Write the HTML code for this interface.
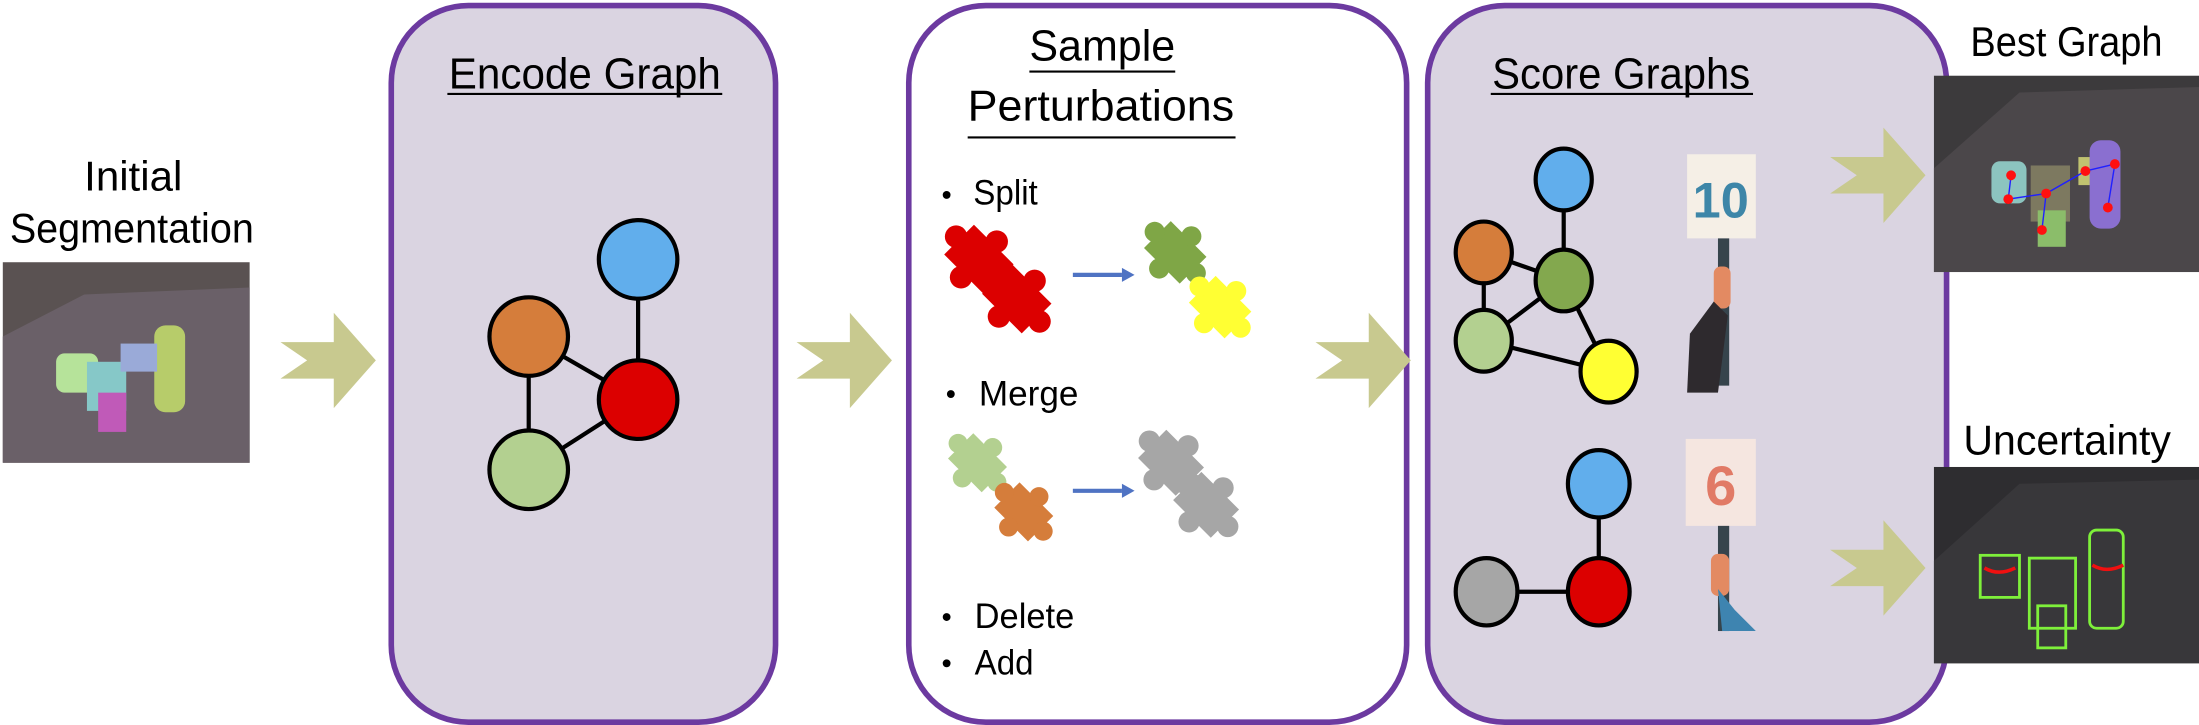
<!DOCTYPE html>
<html><head><meta charset="utf-8"><style>
html,body{margin:0;padding:0;background:#fff;}
svg{display:block;}
text{font-family:"Liberation Sans",sans-serif;}
</style></head><body>
<svg width="2199" height="725" viewBox="0 0 1568 517" preserveAspectRatio="none" xmlns="http://www.w3.org/2000/svg">
<defs>
<polygon id="chev" points="0,19 38,19 38,-2 68,32 38,66 38,45 0,45 19,32" fill="#c8c98f"/>
<g id="puz">
 <rect x="-20" y="-15" width="40" height="30"/>
 <circle cx="0" cy="-18" r="8"/><circle cx="-23" cy="0" r="8"/><circle cx="23" cy="0" r="8"/><circle cx="0" cy="18" r="8"/>
</g>
</defs>

<!-- Initial segmentation -->
<text x="60" y="136" font-size="30" textLength="70" lengthAdjust="spacingAndGlyphs">Initial</text>
<text x="7" y="173" font-size="30" textLength="174" lengthAdjust="spacingAndGlyphs">Segmentation</text>
<rect x="2" y="187" width="176" height="143" fill="#5a5252"/>
<polygon points="2,240 60,210 178,205 178,330 2,330" fill="#6a6068"/>
<rect x="40" y="252" width="30" height="28" rx="6" fill="#b6e39a"/>
<rect x="62" y="258" width="28" height="35" fill="#86c8c8"/>
<rect x="70" y="280" width="20" height="28" fill="#c05ab8"/>
<rect x="110" y="232" width="22" height="62" rx="8" fill="#b7cc6a"/>
<rect x="86" y="245" width="26" height="20" fill="#9aaad8"/>

<use href="#chev" x="200" y="225"/>

<!-- Encode Graph box -->
<rect x="279" y="4" width="274" height="511" rx="55" fill="#dad4e1" stroke="#6c3aa0" stroke-width="4"/>
<text x="320" y="63" font-size="31" textLength="194" lengthAdjust="spacingAndGlyphs">Encode Graph</text>
<line x1="319" y1="67" x2="515" y2="67" stroke="#000" stroke-width="1.5"/>
<g stroke="#000" stroke-width="3">
<line x1="455" y1="185" x2="455" y2="285"/>
<line x1="377" y1="240" x2="455" y2="285"/>
<line x1="377" y1="240" x2="377" y2="335"/>
<line x1="377" y1="335" x2="455" y2="285"/>
<ellipse cx="455" cy="185" rx="28" ry="28" fill="#61aeec"/>
<ellipse cx="377" cy="240" rx="28" ry="28" fill="#d57d3b"/>
<ellipse cx="455" cy="285" rx="28" ry="28" fill="#dc0000"/>
<ellipse cx="377" cy="335" rx="28" ry="28" fill="#b3d090"/>
</g>

<use href="#chev" x="568" y="225"/>

<!-- Sample Perturbations -->
<rect x="648" y="4" width="355" height="511" rx="55" fill="#fff" stroke="#6c3aa0" stroke-width="4"/>
<text x="734" y="43" font-size="31" textLength="104" lengthAdjust="spacingAndGlyphs">Sample</text>
<line x1="734" y1="51" x2="838" y2="51" stroke="#000" stroke-width="1.5"/>
<text x="690" y="86" font-size="31" textLength="190" lengthAdjust="spacingAndGlyphs">Perturbations</text>
<line x1="690" y1="98" x2="881" y2="98" stroke="#000" stroke-width="1.5"/>
<g font-size="25">
<circle cx="675" cy="139" r="2.8"/><text x="694" y="146" textLength="46" lengthAdjust="spacingAndGlyphs">Split</text>
<circle cx="678" cy="281" r="2.8"/><text x="698" y="289" textLength="71" lengthAdjust="spacingAndGlyphs">Merge</text>
<circle cx="675" cy="440" r="2.8"/><text x="695" y="448" textLength="71" lengthAdjust="spacingAndGlyphs">Delete</text>
<circle cx="675" cy="473" r="2.8"/><text x="695" y="481" textLength="42" lengthAdjust="spacingAndGlyphs">Add</text>
</g>
<use href="#puz" fill="#dc0000" transform="translate(698,185) rotate(45) scale(1.0)"/>
<use href="#puz" fill="#dc0000" transform="translate(725,213) rotate(45) scale(1.0)"/>
<line x1="765" y1="196" x2="800" y2="196" stroke="#4f73c3" stroke-width="3"/>
<polygon points="800,191 809,196 800,201" fill="#4f73c3"/>
<use href="#puz" fill="#7fa646" transform="translate(838,180) rotate(45) scale(0.9)"/>
<use href="#puz" fill="#ffff33" transform="translate(870,219) rotate(45) scale(0.9)"/>
<use href="#puz" fill="#b3d090" transform="translate(697,330) rotate(45) scale(0.85)"/>
<use href="#puz" fill="#d57d3b" transform="translate(730,365) rotate(45) scale(0.85)"/>
<line x1="765" y1="350" x2="800" y2="350" stroke="#4f73c3" stroke-width="3"/>
<polygon points="800,345 809,350 800,355" fill="#4f73c3"/>
<use href="#puz" fill="#a6a6a6" transform="translate(835,330) rotate(45) scale(0.95)"/>
<use href="#puz" fill="#a6a6a6" transform="translate(860,360) rotate(45) scale(0.95)"/>

<use href="#chev" x="938" y="225"/>

<!-- Score Graphs -->
<rect x="1018" y="4" width="370" height="511" rx="55" fill="#dad4e1" stroke="#6c3aa0" stroke-width="4"/>
<text x="1064" y="63" font-size="31" textLength="184" lengthAdjust="spacingAndGlyphs">Score Graphs</text>
<line x1="1063" y1="67" x2="1250" y2="67" stroke="#000" stroke-width="1.5"/>
<g stroke="#000" stroke-width="3">
<line x1="1115" y1="128" x2="1115" y2="200"/>
<line x1="1058" y1="180" x2="1115" y2="200"/>
<line x1="1058" y1="180" x2="1058" y2="243"/>
<line x1="1058" y1="243" x2="1115" y2="200"/>
<line x1="1058" y1="243" x2="1147" y2="265"/>
<line x1="1115" y1="200" x2="1147" y2="265"/>
<ellipse cx="1115" cy="128" rx="20" ry="22" fill="#61aeec"/>
<ellipse cx="1058" cy="180" rx="20" ry="22" fill="#d57d3b"/>
<ellipse cx="1115" cy="200" rx="20" ry="22" fill="#83a84e"/>
<ellipse cx="1058" cy="243" rx="20" ry="22" fill="#b3d090"/>
<ellipse cx="1147" cy="265" rx="20" ry="22" fill="#ffff33"/>
<line x1="1060" y1="422" x2="1140" y2="422"/>
<line x1="1140" y1="345" x2="1140" y2="422"/>
<ellipse cx="1140" cy="345" rx="22" ry="24" fill="#61aeec"/>
<ellipse cx="1140" cy="422" rx="22" ry="24" fill="#dc0000"/>
<ellipse cx="1060" cy="422" rx="22" ry="24" fill="#a6a6a6"/>
</g>
<rect x="1203" y="110" width="49" height="60" fill="#f5efe6"/>
<text x="1227" y="155" font-size="36" font-weight="bold" fill="#3d86a8" text-anchor="middle">10</text>
<rect x="1225" y="170" width="8" height="105" fill="#36444c"/>
<rect x="1222" y="190" width="12" height="30" rx="5" fill="#e38a62"/>
<polygon points="1203,280 1205,238 1222,215 1232,225 1225,280" fill="#2e2a2e"/>
<rect x="1202" y="313" width="50" height="62" fill="#f5e6e0"/>
<text x="1227" y="360" font-size="40" font-weight="bold" fill="#e17a66" text-anchor="middle">6</text>
<rect x="1225" y="375" width="8" height="75" fill="#36444c"/>
<rect x="1220" y="395" width="13" height="30" rx="5" fill="#e38a62"/>
<polygon points="1225,420 1237,435 1252,450 1228,450" fill="#3e84b0"/>

<use href="#chev" x="1305" y="93"/>
<use href="#chev" x="1305" y="373"/>

<!-- Outputs -->
<text x="1405" y="40" font-size="30" textLength="137" lengthAdjust="spacingAndGlyphs">Best Graph</text>
<rect x="1379" y="54" width="189" height="140" fill="#3c3a3c"/>
<polygon points="1379,120 1440,66 1568,62 1568,194 1379,194" fill="#4b474a"/>
<rect x="1420" y="115" width="25" height="30" rx="6" fill="#8cc4bf"/>
<rect x="1448" y="118" width="28" height="40" fill="#7d7960"/>
<rect x="1453" y="150" width="20" height="26" fill="#8bbd6a"/>
<rect x="1482" y="112" width="25" height="20" fill="#c0c270"/>
<rect x="1490" y="100" width="22" height="63" rx="8" fill="#8a6fd0"/>
<polyline points="1434,125 1432,142 1459,138 1487,122 1508,117 1503,148" fill="none" stroke="#2020ff" stroke-width="1"/>
<line x1="1459" y1="138" x2="1456" y2="164" stroke="#2020ff" stroke-width="1"/>
<g fill="#ff1010"><circle cx="1434" cy="125" r="3.5"/><circle cx="1432" cy="142" r="3.5"/><circle cx="1459" cy="138" r="3.5"/><circle cx="1487" cy="122" r="3.5"/><circle cx="1508" cy="117" r="3.5"/><circle cx="1503" cy="148" r="3.5"/><circle cx="1456" cy="164" r="3.5"/></g>
<text x="1400" y="324" font-size="30" textLength="148" lengthAdjust="spacingAndGlyphs">Uncertainty</text>
<rect x="1379" y="333" width="189" height="140" fill="#2e2d30"/>
<polygon points="1379,400 1440,345 1568,342 1568,473 1379,473" fill="#38373a"/>
<g fill="none" stroke="#7ef03a" stroke-width="2">
<rect x="1412" y="396" width="28" height="30"/>
<rect x="1447" y="398" width="33" height="50"/>
<rect x="1453" y="432" width="20" height="30"/>
<rect x="1490" y="378" width="24" height="70" rx="5"/>
</g>
<path d="M1415,405 q10,6 22,0 M1492,403 q10,6 22,0" stroke="#f01010" stroke-width="2.5" fill="none"/>
</svg>
</body></html>
